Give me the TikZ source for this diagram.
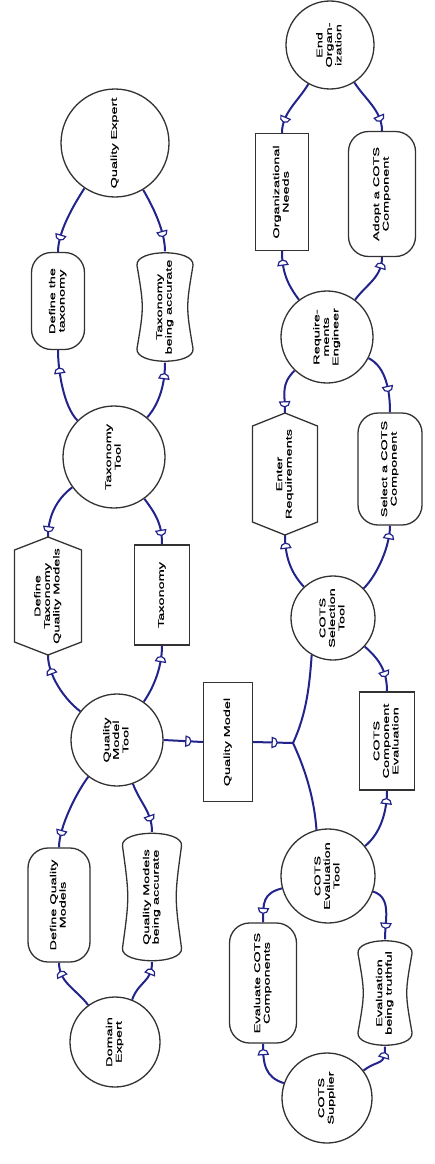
\documentclass[tikz,border=0pt]{standalone}
\usepackage{graphicx}
\usepackage{fontspec}
\newfontfamily\lbl{Liberation Sans}[FakeStretch=1.7,FakeBold=0.8]
\usetikzlibrary{decorations.markings,calc}
\pgfdeclarelayer{bg}\pgfdeclarelayer{mid}\pgfsetlayers{bg,mid,main}
\definecolor{linkc}{RGB}{35,35,140}
\definecolor{edgec}{RGB}{50,50,50}
\newcommand\rt[1]{\rotatebox{90}{\lbl\fontsize{8.5}{9.5}\selectfont\begin{tabular}{@{}c@{}}#1\end{tabular}}}
\tikzset{
  actor/.style={circle, draw=edgec, line width=1.3pt, fill=white, inner sep=0pt, minimum size=#1},
  goal/.style={rectangle, rounded corners=20pt, draw=edgec, line width=1.3pt, fill=white, inner sep=0pt},
  res/.style={rectangle, draw=edgec, line width=1.3pt, fill=white, inner sep=0pt},
  plain/.style={rectangle, inner sep=0pt},
  outl/.style={draw=edgec, line width=1.3pt, fill=white},
  link/.style={draw=linkc, line width=2pt},
  dm/.style={postaction={decorate, decoration={markings, mark=at position #1 with {\draw[draw=linkc, line width=1.2pt, fill=white] (-1,-5) -- (-1,5) arc (90:-90:5) -- cycle;}}}}
}
\newcommand\sgdraw[4]{\begin{pgfonlayer}{mid}\draw[outl] ({#1+#3},{#2-#4+14}) .. controls ({#1+#3-7},{#2}) .. ({#1+#3},{#2+#4-14})
 .. controls ({#1+#3+2},{#2+#4+3}) and ({#1-#3-2},{#2+#4+3}) .. ({#1-#3},{#2+#4-14})
 .. controls ({#1-#3+7},{#2}) .. ({#1-#3},{#2-#4+14})
 .. controls ({#1-#3-2},{#2-#4-3}) and ({#1+#3+2},{#2-#4-3}) .. cycle;\end{pgfonlayer}}
\newcommand\hexdraw[4]{\begin{pgfonlayer}{mid}\draw[outl] ({#1},{#2-#4}) -- ({#1+#3},{#2-#4+13}) -- ({#1+#3},{#2+#4-13}) -- ({#1},{#2+#4}) -- ({#1-#3},{#2+#4-13}) -- ({#1-#3},{#2-#4+13}) -- cycle;\end{pgfonlayer}}
\begin{document}
\begin{tikzpicture}[x=1pt,y=-1pt]
\begin{pgfonlayer}{bg}\fill[white] (0,0) rectangle (435,1164);\end{pgfonlayer}
\useasboundingbox (0,0) rectangle (435,1164);
% actors
\node[actor=108pt] (QE) at (115,143) {\rt{Quality Expert}};
\node[actor=102pt] (TT) at (114,457) {\rt{Taxonomy\\Tool}};
\node[actor=92pt] (QMT) at (117,740) {\rt{Quality\\Model\\Tool}};
\node[actor=90pt] (DE) at (115,1042) {\rt{Domain\\Expert}};
\node[actor=88pt] (EO) at (330,45) {\rt{End\\Organ-\\ization}};
\node[actor=92pt] (RE) at (327,337) {\rt{Require-\\ments\\Engineer}};
\node[actor=84pt] (CST) at (333,618) {\rt{COTS\\Selection\\Tool}};
\node[actor=94pt] (CET) at (328,876) {\rt{COTS\\Evaluation\\Tool}};
\node[actor=90pt] (CS) at (327,1098) {\rt{COTS\\Supplier}};
% goals
\node[goal, minimum width=53pt, minimum height=97pt] (DefTax) at (58,301) {\rt{Define the\\taxonomy}};
\node[goal, minimum width=62pt, minimum height=114pt] (DefQM) at (59,905) {\rt{Define Quality\\Models}};
\node[goal, minimum width=67pt, minimum height=125pt] (Adopt) at (382,194) {\rt{Adopt a COTS\\Component}};
\node[goal, minimum width=64pt, minimum height=112pt] (Select) at (390,469) {\rt{Select a COTS\\Component}};
\node[goal, minimum width=67pt, minimum height=120pt] (EvalC) at (263,983) {\rt{Evaluate COTS\\Components}};
% softgoals
\node[plain, minimum width=56pt, minimum height=111pt] (TaxAcc) at (165,307) {\rt{Taxonomy\\being accurate}};
\sgdraw{165}{307}{28}{55.5}
\node[plain, minimum width=59pt, minimum height=130pt] (QMAcc) at (152,897) {\rt{Quality Models\\being accurate}};
\sgdraw{152}{897}{29.5}{65}
\node[plain, minimum width=54pt, minimum height=107pt] (EvalTr) at (385,993) {\rt{Evaluation\\being truthful}};
\sgdraw{385}{993}{27}{53.5}
% tasks
\node[plain, minimum width=67pt, minimum height=118pt] (DefTQM) at (48,596) {\rt{Define\\Taxonomy\\Quality Models}};
\hexdraw{48}{596}{33.5}{59}
\node[plain, minimum width=65pt, minimum height=122pt] (EnterReq) at (285,474) {\rt{Enter\\Requirements}};
\hexdraw{285}{474}{32.5}{61}
% resources
\node[res, minimum width=55pt, minimum height=100pt] (Tax) at (162,595) {\rt{Taxonomy}};
\node[res, minimum width=49pt, minimum height=119pt] (QM) at (228,742) {\rt{Quality Model}};
\node[res, minimum width=53pt, minimum height=117pt] (OrgNeeds) at (282,192) {\rt{Organizational\\Needs}};
\node[res, minimum width=55pt, minimum height=98pt] (CCE) at (387,741) {\rt{COTS\\Component\\Evaluation}};
\coordinate (J) at (293,743);
% links
\begin{pgfonlayer}{bg}
\draw[link, dm=-16pt] (QE.236) .. controls +(-11,17) and +(0,-20) .. (DefTax.north);
\draw[link, dm=-22pt] (TT.135) .. controls +(-14,-14) and +(0,20) .. (DefTax.south);
\draw[link, dm=-19pt] (QE.301) .. controls +(10,17) and +(0,-20) .. (TaxAcc.north);
\draw[link, dm=-15pt] (TT.50) .. controls +(13,-15) and +(0,20) .. (TaxAcc.south);
\draw[link, dm=-9pt] (TT.216) .. controls +(-16,12) and +(0,-20) .. (DefTQM.north);
\draw[link, dm=-18pt] (QMT.142) .. controls +(-16,-12) and +(0,20) .. (DefTQM.south);
\draw[link, dm=-13pt] (TT.306) .. controls +(12,16) and +(0,-20) .. (Tax.north);
\draw[link, dm=-15pt] (QMT.55) .. controls +(11,-16) and +(0,20) .. (Tax.south);
\draw[link, dm=-16pt] (QMT.east) -- (QM.west);
\draw[link, dm=20pt] (QM.east) -- (J);
\draw[link] (J) .. controls +(14,-30) and +(-2,28) .. (CST.240);
\draw[link] (J) .. controls +(14,30) and +(-2,-28) .. (CET.104);
\draw[link, dm=-19pt] (CST.318) .. controls +(15,13) and +(0,-20) .. (CCE.north);
\draw[link, dm=-12pt] (CET.39) .. controls +(16,-13) and +(0,20) .. (CCE.south);
\draw[link, dm=-12pt] (CST.133) .. controls +(-14,-15) and +(0,20) .. (EnterReq.south);
\draw[link, dm=-10pt] (RE.226) .. controls +(-14,14) and +(0,-20) .. (EnterReq.north);
\draw[link, dm=-25pt] (RE.333) .. controls +(18,9) and +(0,-20) .. (Select.north);
\draw[link, dm=-12pt] (CST.44) .. controls +(14,-14) and +(0,20) .. (Select.south);
\draw[link, dm=-15pt] (EO.241) .. controls +(-10,17) and +(0,-20) .. (OrgNeeds.north);
\draw[link, dm=-13pt] (RE.127) .. controls +(-12,-16) and +(0,20) .. (OrgNeeds.south);
\draw[link, dm=-14pt] (EO.303) .. controls +(11,17) and +(0,-20) .. (Adopt.north);
\draw[link, dm=-10pt] (RE.53) .. controls +(12,-16) and +(0,20) .. (Adopt.south);
\draw[link, dm=-16pt] (QMT.232) .. controls +(-12,16) and +(0,-20) .. (DefQM.north);
\draw[link, dm=-13pt] (DE.126) .. controls +(-12,-16) and +(0,20) .. (DefQM.south);
\draw[link, dm=-15pt] (QMT.290) .. controls +(7,19) and +(0,-20) .. (QMAcc.north);
\draw[link, dm=-11pt] (DE.68) .. controls +(7,-19) and +(0,20) .. (QMAcc.south);
\draw[link, dm=-13pt] (CET.195) .. controls +(-19,5) and +(0,-20) .. (EvalC.north);
\draw[link, dm=-10pt] (CS.161) .. controls +(-19,-6) and +(0,20) .. (EvalC.south);
\draw[link, dm=-15pt] (CET.341) .. controls +(19,6) and +(0,-20) .. (EvalTr.north);
\draw[link, dm=-10pt] (CS.37) .. controls +(16,-12) and +(0,20) .. (EvalTr.south);
\end{pgfonlayer}
\end{tikzpicture}
\end{document}
